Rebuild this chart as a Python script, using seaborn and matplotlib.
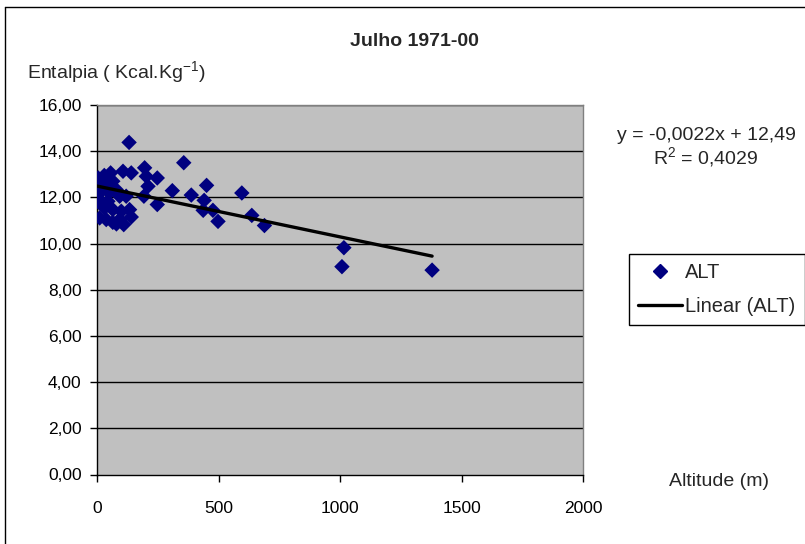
import matplotlib
matplotlib.use("Agg")
import matplotlib.pyplot as plt
from matplotlib.lines import Line2D
import numpy as np
import pandas as pd
import seaborn as sns

# Station altitude (m) and mean July enthalpy (Kcal/Kg), 1971-2000
altitude = [132, 107, 141, 196, 203, 248, 210, 56, 65, 24,
            11, 3, 38, 79, 93, 120, 11, 45, 31, 65,
            100, 134, 141, 93, 11, 38, 65, 110, 193, 248,
            357, 310, 388, 451, 441, 437, 477, 498, 596, 637,
            689, 1016, 1008, 1379, 0, 5, 30, 50, 20, 80]
entalpia = [14.38, 13.13, 13.06, 13.28, 12.91, 12.84, 12.48, 13.06, 12.70, 12.84,
            12.63, 12.41, 12.48, 12.34, 12.05, 12.05, 11.90, 11.83, 11.54, 11.47,
            11.40, 11.47, 11.15, 11.04, 11.11, 11.04, 10.92, 10.82, 12.05, 11.69,
            13.50, 12.29, 12.10, 12.52, 11.87, 11.44, 11.44, 10.96, 12.19, 11.22,
            10.78, 9.82, 9.00, 8.85, 11.83, 12.84, 12.95, 12.20, 12.30, 10.85]

# Linear trend coefficients
slope = -0.0022
intercept = 12.49
r_squared = 0.4029

x_ticks = [0, 500, 1000, 1500, 2000]
y_ticks = [0, 2, 4, 6, 8, 10, 12, 14, 16]

sns.set_theme(style="white")
plt.rcParams["font.family"] = ["Liberation Sans", "DejaVu Sans"]

df = pd.DataFrame({"Altitude": altitude, "Entalpia": entalpia})
trend_x = np.array([min(altitude), max(altitude)])
trend = pd.DataFrame({"Altitude": trend_x, "Entalpia": slope * trend_x + intercept})

fig = plt.figure(figsize=(8.05, 5.44), dpi=100)
fig.patch.set_facecolor("white")
ax = fig.add_axes([97 / 805, 1 - 474.5 / 544, (583 - 97) / 805, (474.5 - 105) / 544])
ax.set_facecolor("#C0C0C0")

for yv in y_ticks[1:]:
    ax.axhline(yv, color="black", lw=1.0, zorder=1)

sns.scatterplot(data=df, x="Altitude", y="Entalpia", marker="D", s=62,
                color="#000080", edgecolor="none", ax=ax, zorder=3, legend=False)
sns.lineplot(data=trend, x="Altitude", y="Entalpia", color="black", lw=2.4,
             ax=ax, zorder=4, legend=False)

ax.set_xlim(0, 2000)
ax.set_ylim(0, 16)
ax.set_xticks(x_ticks)
ax.set_xticklabels([str(v) for v in x_ticks])
ax.set_yticks(y_ticks)
ax.set_yticklabels([f"{v:.2f}".replace(".", ",") for v in y_ticks])
ax.tick_params(axis="both", which="major", labelsize=12.5, colors="black",
               length=5, width=1, direction="out")
ax.tick_params(axis="x", pad=14)
ax.tick_params(axis="y", pad=6)
ax.xaxis.set_ticks_position("bottom")
ax.yaxis.set_ticks_position("left")
ax.set_xlabel("")
ax.set_ylabel("")

for side in ["left", "bottom"]:
    ax.spines[side].set_color("black")
    ax.spines[side].set_linewidth(1.0)
for side in ["top", "right"]:
    ax.spines[side].set_color("#808080")
    ax.spines[side].set_linewidth(1.0)

# Titles and annotations
fig.text(414 / 805, 1 - 41 / 544, "Julho 1971-00", ha="center", va="center",
         fontsize=14, fontweight="bold")
fig.text(27 / 805, 1 - 73 / 544, r"Entalpia ( Kcal.Kg$^{\mathregular{-1}}$)",
         ha="left", va="center", fontsize=14)
fig.text(706 / 805, 1 - 135 / 544,
         f"y = {slope:.4f}x + {intercept:.2f}".replace(".", ","),
         ha="center", va="center", fontsize=14)
fig.text(706 / 805, 1 - 158 / 544,
         r"R$^{\mathregular{2}}$ = " + f"{r_squared:.4f}".replace(".", ","),
         ha="center", va="center", fontsize=14)
fig.text(719 / 805, 1 - 481 / 544, "Altitude (m)", ha="center", va="center",
         fontsize=14)

# Legend
handles = [
    Line2D([], [], marker="D", color="#000080", ls="none", markersize=7),
    Line2D([], [], color="black", lw=2.4),
]
leg = fig.legend(handles, ["ALT", "Linear (ALT)"],
                 loc="upper left", bbox_to_anchor=(629 / 805, 1 - 254 / 544),
                 fontsize=14.5, frameon=True, fancybox=False, edgecolor="black",
                 framealpha=1, handlelength=2.2, handletextpad=0.15,
                 borderpad=0.45, labelspacing=0.75, borderaxespad=0)
leg.get_frame().set_linewidth(1.0)

# Chart-area border (left and top edges)
fig.add_artist(Line2D([5 / 805, 5 / 805], [0, 1 - 7 / 544], color="black",
                      lw=1.0, transform=fig.transFigure))
fig.add_artist(Line2D([5 / 805, 1], [1 - 7 / 544, 1 - 7 / 544], color="black",
                      lw=1.0, transform=fig.transFigure))

fig.savefig("out.png", dpi=100)
